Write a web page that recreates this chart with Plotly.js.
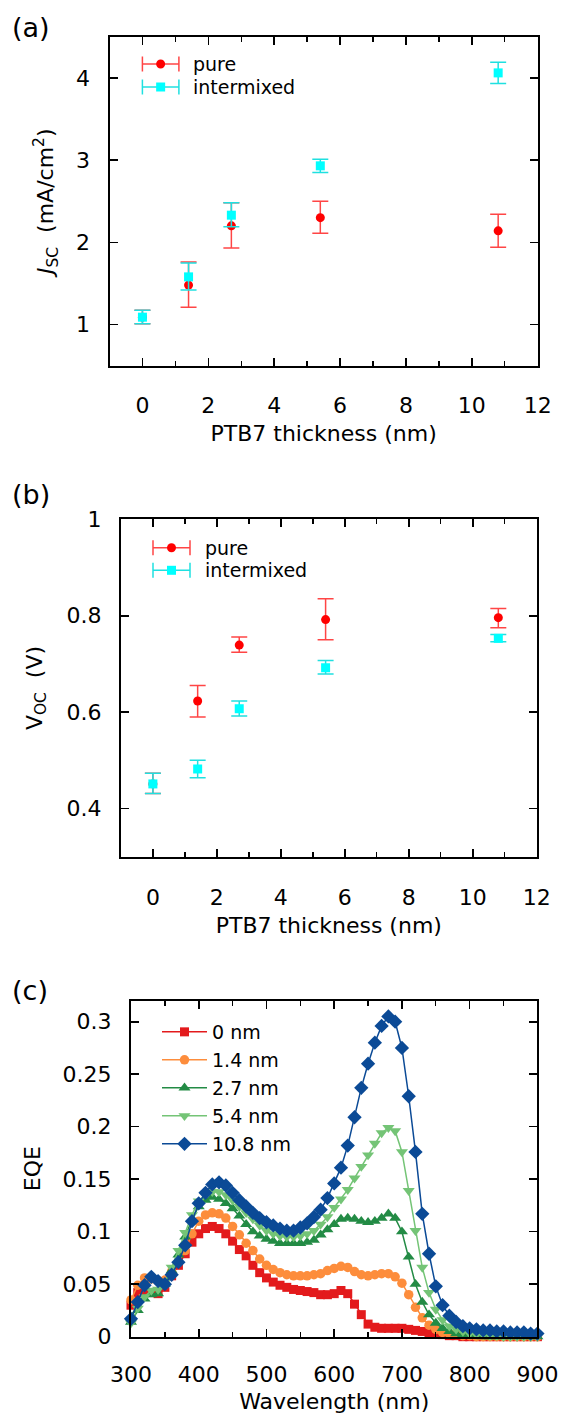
<!DOCTYPE html>
<html><head><meta charset="utf-8">
<script src="https://cdn.plot.ly/plotly-3.0.1.min.js"></script>
<style>html,body{margin:0;padding:0;background:#fff;}#chart{width:561px;height:1418px;}</style>
</head><body><div id="chart"></div>
<script>
// ---------------- DATA ----------------
const thickness = [0, 1.4, 2.7, 5.4, 10.8];
const seriesNames = ['pure', 'intermixed'];

const jscPure = [1.09, 1.48, 2.20, 2.30, 2.14];
const jscPureErrPlus = [0.085, 0.28, 0.28, 0.20, 0.20];
const jscPureErrMinus = [0.08, 0.27, 0.27, 0.19, 0.20];
const jscMixed = [1.09, 1.58, 2.33, 2.93, 4.06];
const jscMixedErrPlus = [0.085, 0.17, 0.15, 0.08, 0.13];
const jscMixedErrMinus = [0.08, 0.16, 0.14, 0.08, 0.13];

const vocPure = [0.451, 0.623, 0.739, 0.792, 0.796];
const vocPureErrPlus = [0.022, 0.032, 0.017, 0.043, 0.019];
const vocPureErrMinus = [0.020, 0.033, 0.015, 0.042, 0.021];
const vocMixed = [0.451, 0.482, 0.607, 0.692, 0.753];
const vocMixedErrPlus = [0.022, 0.018, 0.016, 0.015, 0.008];
const vocMixedErrMinus = [0.020, 0.018, 0.015, 0.013, 0.007];

const wavelength = [300,310,320,330,340,350,360,370,380,390,400,410,420,430,440,450,460,470,480,490,
  500,510,520,530,540,550,560,570,580,590,600,610,620,630,640,650,660,670,680,690,
  700,710,720,730,740,750,760,770,780,790,800,810,820,830,840,850,860,870,880,890,900];
const eqeNames = ['0 nm', '1.4 nm', '2.7 nm', '5.4 nm', '10.8 nm'];
const eqe0 = [0.030,0.042,0.044,0.042,0.041,0.047,0.058,0.068,0.079,0.090,0.098,0.103,0.105,0.103,0.098,0.091,0.083,0.077,0.068,0.061,
  0.056,0.052,0.049,0.047,0.045,0.044,0.043,0.042,0.040,0.040,0.041,0.044,0.041,0.031,0.021,0.012,0.009,0.008,0.008,0.008,
  0.008,0.007,0.006,0.005,0.004,0.003,0.002,0.001,0.001,0,0,0,0,0,0,0,0,0,0,0,0];
const eqe14 = [0.035,0.049,0.056,0.055,0.053,0.054,0.062,0.071,0.082,0.098,0.110,0.116,0.118,0.117,0.113,0.105,0.097,0.089,0.082,0.074,
  0.068,0.064,0.061,0.059,0.058,0.058,0.058,0.059,0.060,0.063,0.065,0.067,0.066,0.062,0.059,0.058,0.059,0.060,0.060,0.057,
  0.051,0.040,0.028,0.018,0.011,0.007,0.004,0.003,0.002,0.001,0.001,0,0,0,0,0,0,0,0,0,0];
const eqe27 = [0.014,0.025,0.036,0.040,0.041,0.050,0.063,0.078,0.095,0.112,0.124,0.130,0.133,0.131,0.127,0.122,0.115,0.107,0.100,0.096,
  0.093,0.091,0.089,0.089,0.089,0.089,0.090,0.092,0.097,0.102,0.107,0.112,0.113,0.112,0.110,0.109,0.110,0.113,0.117,0.113,
  0.100,0.076,0.050,0.033,0.021,0.013,0.008,0.005,0.003,0.002,0.001,0.001,0,0,0,0,0,0,0,0,0];
const eqe54 = [0.013,0.027,0.038,0.044,0.045,0.052,0.066,0.082,0.099,0.116,0.129,0.136,0.138,0.138,0.135,0.130,0.124,0.118,0.112,0.106,
  0.101,0.098,0.096,0.095,0.095,0.096,0.098,0.101,0.107,0.114,0.123,0.131,0.140,0.151,0.162,0.173,0.184,0.194,0.199,0.196,
  0.176,0.139,0.101,0.066,0.042,0.026,0.016,0.010,0.007,0.005,0.003,0.002,0.002,0.001,0.001,0,0,0,0,0,0];
const eqe108 = [0.017,0.033,0.049,0.057,0.053,0.050,0.059,0.071,0.087,0.110,0.127,0.137,0.145,0.147,0.144,0.137,0.130,0.124,0.118,0.113,
  0.109,0.106,0.103,0.101,0.101,0.104,0.108,0.114,0.121,0.132,0.146,0.161,0.182,0.209,0.237,0.260,0.280,0.296,0.305,0.300,
  0.275,0.229,0.176,0.117,0.079,0.048,0.030,0.020,0.014,0.010,0.008,0.007,0.006,0.006,0.005,0.005,0.004,0.004,0.004,0.003,0.003];

const jscTickVals = [1, 2, 3, 4];
const jscTickText = ['1', '2', '3', '4'];
const vocTickVals = [0.4, 0.6, 0.8, 1];
const vocTickText = ['0.4', '0.6', '0.8', '1'];
const eqeTickVals = [0, 0.05, 0.1, 0.15, 0.2, 0.25, 0.3];
const eqeTickText = ['0', '0.05', '0.1', '0.15', '0.2', '0.25', '0.3'];

// ---------------- STYLE / LAYOUT ----------------
const W = 561, H = 1418;
const px = v => v / W;
const py = v => 1 - v / H;
const FONT = 'DejaVu Sans, Verdana, sans-serif';
const pureColor = '#ff0000', pureErr = '#ff4545';
const mixColor = '#00ffff', mixErr = '#1fe0e0';
const eqeColors = ['#e31a1c', '#fd8d3c', '#238b45', '#74c476', '#0b4a96'];
const eqeSymbols = ['square', 'circle', 'triangle-up', 'triangle-down', 'diamond'];
const eqeSizes = [9, 9.5, 10.5, 10.5, 11];

function axisBase(extra) {
  return Object.assign({
    showline: true, linecolor: '#000', linewidth: 2, mirror: 'ticks',
    ticks: 'inside', ticklen: 8, tickwidth: 1.6, tickcolor: '#000',
    showgrid: false, zeroline: false, fixedrange: true,
    tickfont: {family: FONT, size: 22, color: '#000'}
  }, extra);
}
function errTrace(x, y, plus, minus, xa, ya, sym, col, ecol, name) {
  return {
    x: x, y: y, type: 'scatter', mode: 'markers', xaxis: xa, yaxis: ya, name: name,
    marker: {symbol: sym, size: 9, color: col},
    error_y: {type: 'data', symmetric: false, array: plus, arrayminus: minus, color: ecol, thickness: 1.5, width: 8},
    showlegend: false, cliponaxis: false, hoverinfo: 'skip'
  };
}

const traces = [
  errTrace(thickness, jscPure, jscPureErrPlus, jscPureErrMinus, 'x', 'y', 'circle', pureColor, pureErr, seriesNames[0]),
  errTrace(thickness, jscMixed, jscMixedErrPlus, jscMixedErrMinus, 'x', 'y', 'square', mixColor, mixErr, seriesNames[1]),
  errTrace(thickness, vocPure, vocPureErrPlus, vocPureErrMinus, 'x2', 'y2', 'circle', pureColor, pureErr, seriesNames[0]),
  errTrace(thickness, vocMixed, vocMixedErrPlus, vocMixedErrMinus, 'x2', 'y2', 'square', mixColor, mixErr, seriesNames[1])
];
const eqeSeries = [eqe0, eqe14, eqe27, eqe54, eqe108];
eqeSeries.forEach((s, i) => {
  traces.push({
    x: wavelength, y: s, type: 'scatter', mode: 'lines+markers', xaxis: 'x3', yaxis: 'y3',
    name: eqeNames[i], legendgroup: 'g' + i,
    line: {color: eqeColors[i], width: 1.5},
    marker: {symbol: eqeSymbols[i], size: eqeSizes[i], color: eqeColors[i]},
    cliponaxis: false, hoverinfo: 'skip'
  });
});

// frames in pixels: [left, right, top, bottom]
const fa = [109.5, 537.7, 36.7, 365.7];
const fb = [120.9, 536.7, 519.3, 856.7];
const fc = [131, 537.4, 1000.7, 1336.7];
const xd = f => [px(f[0]), px(f[1])];
const yd = f => [py(f[3]), py(f[2])];
const titleFont = {family: FONT, size: 22, color: '#000'};

const layout = {
  width: W, height: H, margin: {l: 0, r: 0, t: 0, b: 0},
  paper_bgcolor: '#fff', plot_bgcolor: '#fff', hovermode: false,
  xaxis: axisBase({domain: xd(fa), anchor: 'y', range: [-1, 12], tick0: 0, dtick: 2,
    minor: {ticks: 'inside', dtick: 1, ticklen: 5, tickwidth: 1.4, tickcolor: '#000'},
    ticklabelstandoff: 19, title: {text: 'PTB7 thickness (nm)', font: titleFont, standoff: 9}}),
  yaxis: axisBase({domain: yd(fa), anchor: 'x', range: [0.5, 4.5], tickvals: jscTickVals, ticktext: jscTickText,
    ticklabelstandoff: 13, title: {text: '<i>J</i><sub>SC</sub>\u00a0\u00a0(mA/cm<sup>2</sup>)', font: titleFont, standoff: 16}}),
  xaxis2: axisBase({domain: xd(fb), anchor: 'y2', range: [-1, 12], tick0: 0, dtick: 2,
    minor: {ticks: 'inside', dtick: 1, ticklen: 5, tickwidth: 1.4, tickcolor: '#000'},
    ticklabelstandoff: 20, title: {text: 'PTB7 thickness (nm)', font: titleFont, standoff: 9}}),
  yaxis2: axisBase({domain: yd(fb), anchor: 'x2', range: [0.3, 1], tickvals: vocTickVals, ticktext: vocTickText,
    ticklabelstandoff: 13, title: {text: 'V<sub>OC</sub>\u00a0\u00a0(V)', font: titleFont, standoff: 18}}),
  xaxis3: axisBase({domain: xd(fc), anchor: 'y3', range: [300, 900], tick0: 300, dtick: 100,
    minor: {ticks: 'inside', dtick: 50, ticklen: 5, tickwidth: 1.4, tickcolor: '#000'},
    ticklabelstandoff: 17, title: {text: 'Wavelength (nm)', font: titleFont, standoff: 8}}),
  yaxis3: axisBase({domain: yd(fc), anchor: 'x3', range: [0, 0.32], tickvals: eqeTickVals, ticktext: eqeTickText,
    ticklabelstandoff: 13, title: {text: 'EQE', font: titleFont, standoff: 16}}),
  showlegend: true,
  legend: {x: px(157), y: py(1013), xanchor: 'left', yanchor: 'top', bgcolor: 'rgba(0,0,0,0)', borderwidth: 0,
    font: {family: FONT, size: 19, color: '#000'}, itemwidth: 45, tracegroupgap: 0.3},
  annotations: [],
  shapes: []
};

// panel letters
[['(a)', 27.5], ['(b)', 494], ['(c)', 990]].forEach(([t, y]) => {
  layout.annotations.push({text: t, xref: 'paper', yref: 'paper', x: px(10), y: py(y), xanchor: 'left', yanchor: 'middle',
    showarrow: false, font: {family: FONT, size: 27, color: '#000'}});
});

// error-bar style legends for panels (a) and (b)
function legendEntry(lx0, lx1, cy, textX, color, ecol, sym, label) {
  const cx = (lx0 + lx1) / 2;
  layout.shapes.push({type: 'line', xref: 'paper', yref: 'paper', x0: px(lx0), x1: px(lx1), y0: py(cy), y1: py(cy), line: {color: ecol, width: 1.5}});
  [lx0, lx1].forEach(xx => layout.shapes.push({type: 'line', xref: 'paper', yref: 'paper', x0: px(xx), x1: px(xx), y0: py(cy - 7.5), y1: py(cy + 7.5), line: {color: ecol, width: 1.5}}));
  layout.shapes.push({type: sym === 'circle' ? 'circle' : 'rect', xref: 'paper', yref: 'paper',
    xsizemode: 'pixel', ysizemode: 'pixel', xanchor: px(cx), yanchor: py(cy), x0: -4.5, x1: 4.5, y0: -4.5, y1: 4.5,
    fillcolor: color, line: {width: 0}});
  layout.annotations.push({text: label, xref: 'paper', yref: 'paper', x: px(textX), y: py(cy), xanchor: 'left', yanchor: 'middle',
    showarrow: false, font: {family: FONT, size: 19, color: '#000'}});
}
legendEntry(142.4, 178.9, 64, 191, pureColor, pureErr, 'circle', seriesNames[0]);
legendEntry(142.4, 178.9, 87, 191, mixColor, mixErr, 'square', seriesNames[1]);
legendEntry(153, 190, 547.7, 202.5, pureColor, pureErr, 'circle', seriesNames[0]);
legendEntry(153, 190, 570.3, 202.5, mixColor, mixErr, 'square', seriesNames[1]);

Plotly.newPlot('chart', traces, layout, {staticPlot: true, displayModeBar: false});
</script>
</body></html>
